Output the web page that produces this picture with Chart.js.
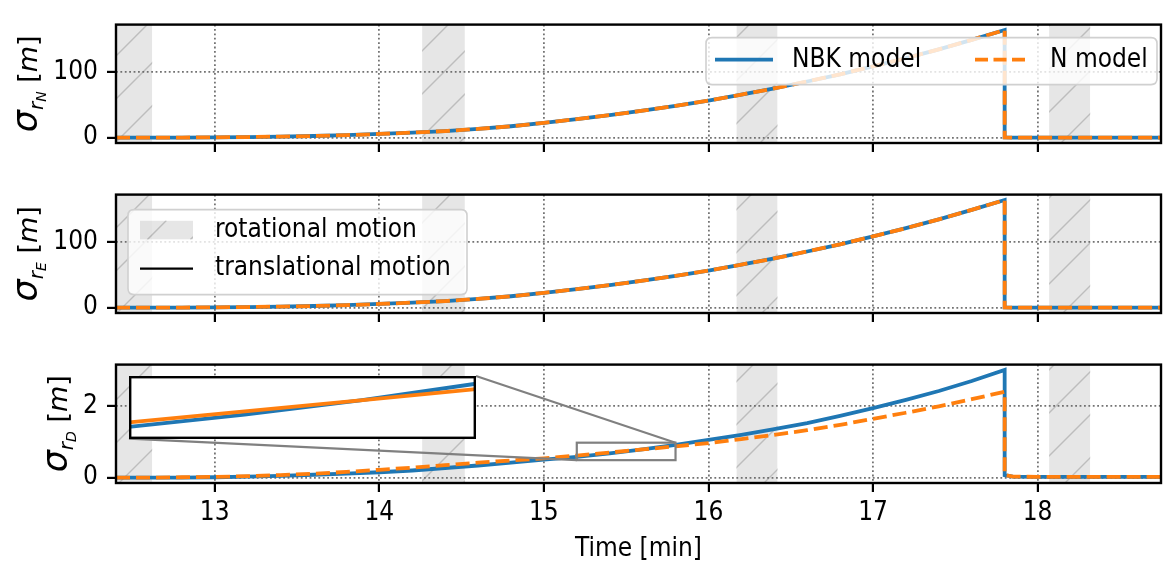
<!DOCTYPE html>
<html>
<head>
<meta charset="utf-8">
<script src="https://cdn.jsdelivr.net/npm/chart.js@4.4.1/dist/chart.umd.min.js"></script>
<style>
  html, body { margin: 0; padding: 0; background: #fff; }
  #wrap { position: relative; width: 1163px; height: 567px; overflow: hidden; background: #fff; }
  #wrap canvas { position: absolute; left: 0; }
</style>
</head>
<body>
<div id="wrap">
  <canvas id="pN" width="1163" height="170" style="top:0px"></canvas>
  <canvas id="pE" width="1163" height="170" style="top:170px"></canvas>
  <canvas id="pD" width="1163" height="227" style="top:340px"></canvas>
  <canvas id="inset" width="10" height="10"></canvas>
</div>
<script>
var FONT = '"DejaVu Sans Condensed", "DejaVu Sans", sans-serif';
var FS = 26;
var BLUE = '#1f77b4', ORANGE = '#ff7f0e';

// time [min]; 17.8 appears twice for the drop at the end of the run
var time = [12.4, 12.6, 12.8, 13.0, 13.2, 13.4, 13.6, 13.8, 14.0, 14.2, 14.4, 14.6, 14.8, 15.0,
            15.2, 15.4, 15.6, 15.8, 16.0, 16.2, 16.4, 16.6, 16.8, 17.0, 17.2, 17.4, 17.6, 17.8,
            17.8, 17.85, 18.0, 18.2, 18.4, 18.6, 18.75];

// sigma_rN [m]
var sigN_nbk = [0, 0, 0.1, 0.4, 0.9, 1.6, 2.5, 3.8, 5.6, 7.6, 10.0, 13.2, 17.3, 22.5,
                28.2, 34.3, 41, 48.5, 56.5, 65.5, 75, 85.5, 96.5, 108.5, 121, 134.5, 149, 164,
                0.3, 0, 0, 0, 0, 0, 0];
var sigN_n   = [0, 0, 0.1, 0.4, 0.9, 1.6, 2.5, 3.8, 5.6, 7.6, 10.0, 13.2, 17.3, 22.5,
                28.2, 34.3, 41, 48.5, 56.5, 65.5, 75, 85.5, 96.5, 108.5, 121, 134.5, 149, 164,
                0.3, 0, 0, 0, 0, 0, 0];
// sigma_rE [m]
var sigE_nbk = [0, 0, 0.1, 0.4, 0.9, 1.6, 2.5, 3.8, 5.6, 7.6, 10.0, 13.2, 17.3, 22.5,
                28.2, 34.3, 41, 48.5, 56.5, 65.5, 75, 85.5, 96.5, 108.5, 121, 134.5, 149, 164,
                0.3, 0, 0, 0, 0, 0, 0];
var sigE_n   = [0, 0, 0.1, 0.4, 0.9, 1.6, 2.5, 3.8, 5.6, 7.6, 10.0, 13.2, 17.3, 22.5,
                28.2, 34.3, 41, 48.5, 56.5, 65.5, 75, 85.5, 96.5, 108.5, 121, 134.5, 149, 164,
                0.3, 0, 0, 0, 0, 0, 0];
// sigma_rD [m]
var sigD_nbk = [0, 0, 0, 0.01, 0.03, 0.05, 0.08, 0.11, 0.15, 0.2, 0.27, 0.34, 0.42, 0.505,
                0.585, 0.68, 0.79, 0.92, 1.06, 1.2, 1.36, 1.53, 1.73, 1.95, 2.18, 2.43, 2.71, 3.02,
                0.07, 0.03, 0.02, 0.02, 0.02, 0.02, 0.02];
var sigD_n   = [0, 0, 0.01, 0.02, 0.04, 0.07, 0.11, 0.16, 0.22, 0.28, 0.35, 0.42, 0.48, 0.54,
                0.62, 0.705, 0.79, 0.878, 0.97, 1.08, 1.2, 1.33, 1.48, 1.65, 1.82, 2.0, 2.2, 2.41,
                0.07, 0.03, 0.02, 0.02, 0.02, 0.02, 0.02];

// rotational motion intervals [min]
var rotStart = [12.3, 14.26, 16.17, 18.07];
var rotEnd   = [12.62, 14.52, 16.42, 18.32];

var xTicks = [13, 14, 15, 16, 17, 18];
var yTicksNE = [0, 100];
var yTicksD = [0, 2];
var T_MIN = 12.4, T_MAX = 18.75;

// zoomed region shown in the inset
var zoomT = [15.2, 15.8];
var zoomSigma = [0.49, 0.98];

// inset placement as fractions of the D axes: left, top, right, bottom
var insetFrac = [0.0124, 0.0956, 0.3445, 0.625];

var LW = 3.8;
var DASH = [14, 6];

function pts(xs, ys) {
    return xs.map(function (x, i) { return {x: x, y: ys[i]}; });
}

function hatchRect(ctx, x0, y0, x1, y1, off) {
    ctx.save();
    ctx.beginPath();
    ctx.rect(x0, y0, x1 - x0, y1 - y0);
    ctx.clip();
    ctx.fillStyle = 'rgba(128,128,128,0.2)';
    ctx.fillRect(x0, y0, x1 - x0, y1 - y0);
    ctx.strokeStyle = 'rgba(128,128,128,0.4)';
    ctx.lineWidth = 1.4;
    ctx.beginPath();
    var step = 43;
    var c0 = Math.floor((x0 + y0 + off) / step) * step;
    for (var c = c0; c <= x1 + y1 + off + step; c += step) {
        ctx.moveTo(c - y0 - off, y0);
        ctx.lineTo(c - y1 - off, y1);
    }
    ctx.stroke();
    ctx.restore();
}

var bandPlugin = {
    id: 'bands',
    beforeDraw: function (chart) {
        var ca = chart.chartArea, xs = chart.scales.x, ctx = chart.ctx;
        var off = chart.canvas.offsetTop;
        ctx.save();
        ctx.beginPath();
        ctx.rect(ca.left, ca.top, ca.right - ca.left, ca.bottom - ca.top);
        ctx.clip();
        for (var i = 0; i < rotStart.length; i++) {
            hatchRect(ctx, xs.getPixelForValue(rotStart[i]), ca.top,
                      xs.getPixelForValue(rotEnd[i]), ca.bottom, off);
        }
        ctx.restore();
    }
};

var framePlugin = {
    id: 'frame',
    afterDraw: function (chart) {
        var ca = chart.chartArea, ctx = chart.ctx;
        ctx.save();
        ctx.strokeStyle = '#000';
        ctx.lineWidth = 2.4;
        ctx.strokeRect(ca.left, ca.top, ca.right - ca.left, ca.bottom - ca.top);
        ctx.restore();
    }
};

function roundBox(ctx, x, y, w, h, r) {
    ctx.beginPath();
    ctx.moveTo(x + r, y);
    ctx.lineTo(x + w - r, y);
    ctx.quadraticCurveTo(x + w, y, x + w, y + r);
    ctx.lineTo(x + w, y + h - r);
    ctx.quadraticCurveTo(x + w, y + h, x + w - r, y + h);
    ctx.lineTo(x + r, y + h);
    ctx.quadraticCurveTo(x, y + h, x, y + h - r);
    ctx.lineTo(x, y + r);
    ctx.quadraticCurveTo(x, y, x + r, y);
    ctx.closePath();
    ctx.fillStyle = 'rgba(255,255,255,0.8)';
    ctx.fill();
    ctx.strokeStyle = '#d0d0d0';
    ctx.lineWidth = 1.6;
    ctx.stroke();
}

var legendPlugin = {
    id: 'boxLegend',
    afterDraw: function (chart, args, opts) {
        if (!opts.kind) return;
        var ca = chart.chartArea, ctx = chart.ctx;
        ctx.save();
        ctx.font = FS + 'px ' + FONT;
        ctx.textBaseline = 'middle';
        ctx.fillStyle = '#000';
        if (opts.kind === 'models') {
            var bx = ca.right - 455, by = ca.top + 13;
            roundBox(ctx, bx, by, 451, 47, 6);
            ctx.lineWidth = LW;
            ctx.strokeStyle = BLUE;
            ctx.beginPath(); ctx.moveTo(bx + 9, by + 22); ctx.lineTo(bx + 67, by + 22); ctx.stroke();
            ctx.strokeStyle = ORANGE;
            ctx.setLineDash([13, 5.5]);
            ctx.beginPath(); ctx.moveTo(bx + 269, by + 22); ctx.lineTo(bx + 321, by + 22); ctx.stroke();
            ctx.setLineDash([]);
            ctx.fillStyle = '#000';
            ctx.fillText('NBK model', bx + 86, by + 23);
            ctx.fillText('N model', bx + 344, by + 23);
        } else {
            var lx = ca.left + 12, ly = ca.top + 15;
            roundBox(ctx, lx, ly, 339, 85, 6);
            hatchRect(ctx, lx + 12, ly + 11, lx + 65, ly + 30, chart.canvas.offsetTop);
            ctx.strokeStyle = '#000';
            ctx.lineWidth = 2.2;
            ctx.beginPath(); ctx.moveTo(lx + 12, ly + 59); ctx.lineTo(lx + 65, ly + 59); ctx.stroke();
            ctx.fillStyle = '#000';
            ctx.fillText('rotational motion', lx + 87, ly + 21);
            ctx.fillText('translational motion', lx + 87, ly + 59);
        }
        ctx.restore();
    }
};

var yLabelPlugin = {
    id: 'ylab',
    afterDraw: function (chart, args, opts) {
        var ca = chart.chartArea, ctx = chart.ctx;
        var parts = [
            {t: '\u03c3', f: 'italic 35px "DejaVu Sans", sans-serif', dy: 0},
            {t: 'r', f: 'italic 20px "DejaVu Sans", sans-serif', dy: 6},
            {t: opts.sub, f: 'italic 14px "DejaVu Sans", sans-serif', dy: 9},
            {t: ' [', f: '27px "DejaVu Sans", sans-serif', dy: 0},
            {t: 'm', f: 'italic 27px "DejaVu Sans", sans-serif', dy: 0},
            {t: ']', f: '27px "DejaVu Sans", sans-serif', dy: 0}
        ];
        ctx.save();
        var total = 0;
        parts.forEach(function (p) { ctx.font = p.f; p.w = ctx.measureText(p.t).width; total += p.w; });
        ctx.translate(opts.x, (ca.top + ca.bottom) / 2);
        ctx.rotate(-Math.PI / 2);
        ctx.fillStyle = '#000';
        ctx.textBaseline = 'alphabetic';
        var u = -total / 2;
        parts.forEach(function (p) {
            ctx.font = p.f;
            ctx.fillText(p.t, u, p.dy);
            u += p.w;
        });
        ctx.restore();
    }
};

function axisGrid() {
    return {color: 'rgba(100,100,100,0.9)', lineWidth: 1.8, borderDash: [1.8, 2.6],
            drawTicks: true, tickLength: 9, tickColor: '#000', tickWidth: 2.2};
}

function makePanel(id, nbk, nmod, yTicks, sub, labelX, showX, legendKind) {
    var top = Math.max.apply(null, nbk.concat(nmod));
    return new Chart(document.getElementById(id), {
        type: 'line',
        data: {
            datasets: [
                {label: 'N model', data: pts(time, nmod), borderColor: ORANGE, borderWidth: LW,
                 borderDash: DASH, pointRadius: 0, tension: 0, order: 0},
                {label: 'NBK model', data: pts(time, nbk), borderColor: BLUE, borderWidth: LW,
                 pointRadius: 0, tension: 0, order: 1}
            ]
        },
        options: {
            responsive: false,
            animation: false,
            events: [],
            layout: {padding: {top: 7, right: 2, left: 0, bottom: 0}},
            plugins: {
                legend: {display: false},
                tooltip: {enabled: false},
                ylab: {sub: sub, x: labelX},
                boxLegend: {kind: legendKind}
            },
            scales: {
                x: {
                    type: 'linear', min: T_MIN, max: T_MAX,
                    afterBuildTicks: function (s) { s.ticks = xTicks.map(function (v) { return {value: v}; }); },
                    afterFit: function (s) { s.height = showX ? 84 : 27; },
                    grid: axisGrid(),
                    border: {display: false, dash: [1.8, 2.6]},
                    ticks: {display: showX, font: {family: FONT, size: FS}, color: '#000',
                            padding: 6, maxRotation: 0, autoSkip: false},
                    title: {display: showX, text: 'Time [min]', color: '#000',
                            font: {family: FONT, size: FS}, padding: {top: 0, bottom: 2}}
                },
                y: {
                    type: 'linear', min: -0.05 * top, max: 1.05 * top,
                    afterBuildTicks: function (s) { s.ticks = yTicks.map(function (v) { return {value: v}; }); },
                    afterFit: function (s) { s.width = 116; },
                    grid: axisGrid(),
                    border: {display: false, dash: [1.8, 2.6]},
                    ticks: {font: {family: FONT, size: FS}, color: '#000', padding: 9}
                }
            }
        },
        plugins: [bandPlugin, framePlugin, legendPlugin, yLabelPlugin, insetLinks]
    });
}

function insetBox(ca) {
    var w = ca.right - ca.left, h = ca.bottom - ca.top;
    return {x0: ca.left + insetFrac[0] * w, y0: ca.top + insetFrac[1] * h,
            x1: ca.left + insetFrac[2] * w, y1: ca.top + insetFrac[3] * h};
}

var insetLinks = {
    id: 'insetLinks',
    afterDatasetsDraw: function (chart, args, opts) {
        if (!opts.on) return;
        var ctx = chart.ctx, xs = chart.scales.x, ys = chart.scales.y;
        var rx0 = xs.getPixelForValue(zoomT[0]), rx1 = xs.getPixelForValue(zoomT[1]);
        var ryLo = ys.getPixelForValue(zoomSigma[0]), ryHi = ys.getPixelForValue(zoomSigma[1]);
        var b = insetBox(chart.chartArea);
        ctx.save();
        ctx.strokeStyle = '#808080';
        ctx.lineWidth = 2.2;
        ctx.strokeRect(rx0, ryHi, rx1 - rx0, ryLo - ryHi);
        ctx.beginPath();
        ctx.moveTo(b.x1, b.y0); ctx.lineTo(rx1, ryHi);
        ctx.moveTo(b.x0, b.y1); ctx.lineTo(rx0, ryLo);
        ctx.stroke();
        ctx.restore();
    }
};

var chartN = makePanel('pN', sigN_nbk, sigN_n, yTicksNE, 'N', 37, false, 'models');
var chartE = makePanel('pE', sigE_nbk, sigE_n, yTicksNE, 'E', 37, false, 'motion');
var chartD = makePanel('pD', sigD_nbk, sigD_n, yTicksD, 'D', 67, true, null);
chartD.options.plugins.insetLinks = {on: true};
chartD.update();

// inset axes over the D panel
var box = insetBox(chartD.chartArea);
var ic = document.getElementById('inset');
ic.style.left = Math.round(box.x0) + 'px';
ic.style.top = Math.round(chartD.canvas.offsetTop + box.y0) + 'px';
ic.width = Math.round(box.x1 - box.x0);
ic.height = Math.round(box.y1 - box.y0);

new Chart(ic, {
    type: 'line',
    data: {
        datasets: [
            {data: pts(time, sigD_n), borderColor: ORANGE, borderWidth: 3.8, pointRadius: 0, tension: 0, order: 0},
            {data: pts(time, sigD_nbk), borderColor: BLUE, borderWidth: 3.8, pointRadius: 0, tension: 0, order: 1}
        ]
    },
    options: {
        responsive: false,
        animation: false,
        events: [],
        layout: {padding: 0},
        plugins: {legend: {display: false}, tooltip: {enabled: false}},
        scales: {
            x: {type: 'linear', min: zoomT[0], max: zoomT[1], display: false},
            y: {type: 'linear', min: zoomSigma[0], max: zoomSigma[1], display: false}
        }
    },
    plugins: [{
        id: 'insetFrame',
        beforeDraw: function (chart) {
            chart.ctx.fillStyle = '#fff';
            chart.ctx.fillRect(0, 0, chart.width, chart.height);
        },
        afterDraw: function (chart) {
            var ctx = chart.ctx;
            ctx.save();
            ctx.strokeStyle = '#000';
            ctx.lineWidth = 2.4;
            ctx.strokeRect(1.2, 1.2, chart.width - 2.4, chart.height - 2.4);
            ctx.restore();
        }
    }]
});
</script>
</body>
</html>
